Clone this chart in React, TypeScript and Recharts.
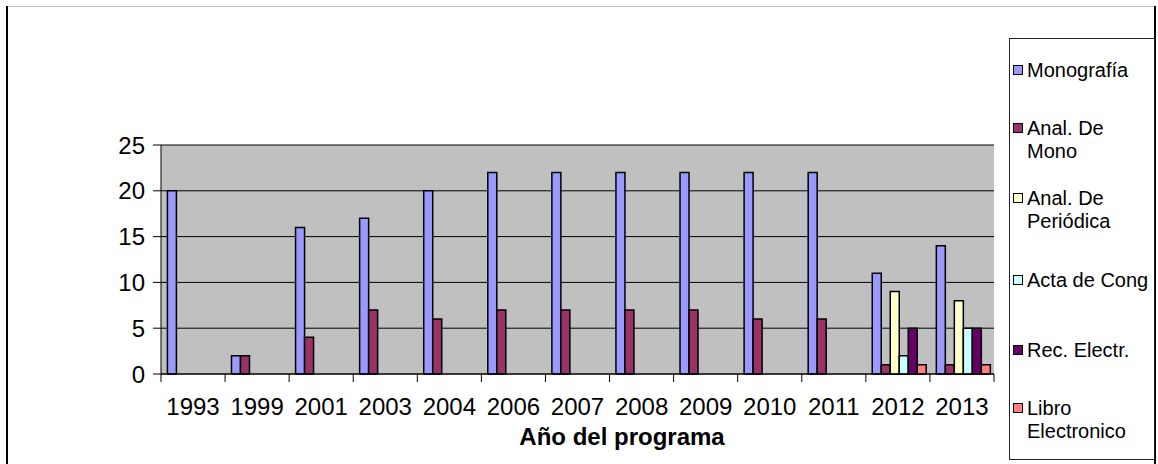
import React from 'react';
import { BarChart, Bar, XAxis, YAxis, CartesianGrid } from 'recharts';

const categories = ['1993', '1999', '2001', '2003', '2004', '2006', '2007', '2008', '2009', '2010', '2011', '2012', '2013'];
const monografia = [20, 2, 16, 17, 20, 22, 22, 22, 22, 22, 22, 11, 14];
const analMono = [null, 2, 4, 7, 6, 7, 7, 7, 7, 6, 6, 1, 1];
const analPeriodica = [null, null, null, null, null, null, null, null, null, null, null, 9, 8];
const actaCong = [null, null, null, null, null, null, null, null, null, null, null, 2, 5];
const recElectr = [null, null, null, null, null, null, null, null, null, null, null, 5, 5];
const libroElec = [null, null, null, null, null, null, null, null, null, null, null, 1, 1];
const yTicks = [0, 5, 10, 15, 20, 25];

const seriesNames = ['Monografía', 'Anal. De Mono', 'Anal. De Periódica', 'Acta de Cong', 'Rec. Electr.', 'Libro Electronico'];
const seriesColors = ['#9999FF', '#993366', '#FFFFCC', '#CCFFFF', '#660066', '#FF8080'];
const seriesValues = [monografia, analMono, analPeriodica, actaCong, recElectr, libroElec];
const seriesKeys = ['s0', 's1', 's2', 's3', 's4', 's5'];

const data = categories.map((cat, i) => {
  const row: Record<string, any> = { cat };
  seriesKeys.forEach((k, s) => {
    row[k] = seriesValues[s][i];
  });
  return row;
});

const FONT = '"Liberation Sans", Arial, sans-serif';
const W = 1158;
const H = 464;
const MARGIN = { top: 145, right: 164, bottom: 30, left: 101 };
const YAXIS_W = 60;
const XAXIS_H = 60;
const PLOT_W = W - MARGIN.left - YAXIS_W - MARGIN.right;
const BAND = PLOT_W / categories.length;

function XTick(props: any) {
  const { x, y, payload, index } = props;
  const axisY = y - 8;
  const half = BAND / 2;
  return (
    <g>
      <line x1={x - half} x2={x - half} y1={axisY} y2={axisY + 8} stroke="#000" strokeWidth={1} />
      {index === categories.length - 1 && (
        <line x1={x + half} x2={x + half} y1={axisY} y2={axisY + 8} stroke="#000" strokeWidth={1} />
      )}
      <text x={x} y={y + 33} textAnchor="middle" fill="#000" fontSize={24} fontFamily={FONT}>
        {payload.value}
      </text>
    </g>
  );
}

export default function App() {
  return (
    <div style={{ position: 'absolute', left: 0, top: 0, width: W, height: H, background: '#fff', fontFamily: FONT }}>
      <div style={{ position: 'absolute', left: 6, top: 6, width: 1150, height: 1, background: '#c0c0c0' }} />
      <div style={{ position: 'absolute', left: 6, top: 6, width: 2, height: H - 6, background: '#000' }} />
      <div style={{ position: 'absolute', left: 1154, top: 6, width: 2, height: H - 6, background: '#000' }} />
      <div style={{ position: 'absolute', left: 0, top: 0 }}>
        <BarChart width={W} height={H} data={data} margin={MARGIN} barCategoryGap="10%" barGap={0}>
          <CartesianGrid vertical={false} stroke="#000" strokeWidth={1} fill="#C0C0C0" fillOpacity={1} />
          <XAxis
            dataKey="cat"
            height={XAXIS_H}
            tickLine={false}
            tickSize={8}
            tickMargin={0}
            axisLine={{ stroke: '#000', strokeWidth: 1 }}
            tick={<XTick />}
            interval={0}
          />
          <XAxis xAxisId="top" dataKey="cat" orientation="top" height={0} tick={false} tickLine={false} axisLine={{ stroke: '#808080', strokeWidth: 2 }} />
          <YAxis
            type="number"
            domain={[0, 25]}
            ticks={yTicks}
            interval={0}
            width={YAXIS_W}
            tickSize={8}
            tickMargin={8}
            axisLine={{ stroke: '#000', strokeWidth: 1 }}
            tickLine={{ stroke: '#000', strokeWidth: 1 }}
            tick={{ fill: '#000', fontSize: 24, fontFamily: FONT }}
          />
          <YAxis yAxisId="r" orientation="right" type="number" domain={[0, 25]} width={0} tick={false} tickLine={false} axisLine={{ stroke: '#808080', strokeWidth: 2 }} />
          {seriesKeys.map((k, s) => (
            <Bar key={k} dataKey={k} name={seriesNames[s]} fill={seriesColors[s]} stroke="#000" strokeWidth={1.5} isAnimationActive={false} />
          ))}
        </BarChart>
      </div>
      <div
        style={{
          position: 'absolute',
          left: 400,
          width: 444,
          top: 425,
          textAlign: 'center',
          fontSize: 24,
          lineHeight: '24px',
          fontWeight: 'bold',
          color: '#000',
        }}
      >
        Año del programa
      </div>
      <div
        style={{
          position: 'absolute',
          left: 1009,
          top: 38,
          width: 146,
          height: 422,
          boxSizing: 'border-box',
          border: '1px solid #222',
          background: '#fff',
          display: 'flex',
          flexDirection: 'column',
        }}
      >
        <div style={{ marginTop: -4, display: 'flex', flexDirection: 'column' }}>
          {seriesNames.map((name, s) => (
            <div key={name} style={{ height: 70, display: 'flex', alignItems: 'center', position: 'relative' }}>
              <div style={{ position: 'relative', paddingLeft: 17, width: 124, fontSize: 20, lineHeight: '23px', color: '#000' }}>
                <div
                  style={{
                    position: 'absolute',
                    left: 3,
                    top: 6,
                    width: 10,
                    height: 10,
                    boxSizing: 'border-box',
                    border: '1.5px solid #000',
                    background: seriesColors[s],
                  }}
                />
                {name}
              </div>
            </div>
          ))}
        </div>
      </div>
    </div>
  );
}
